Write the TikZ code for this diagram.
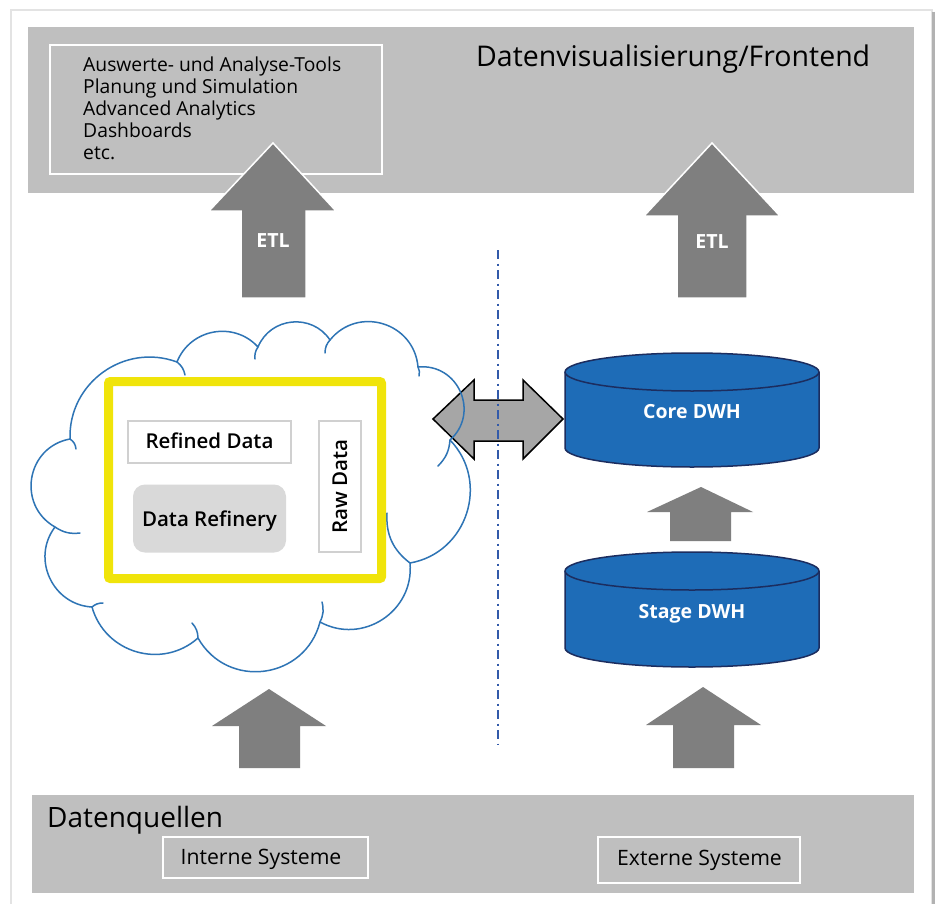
\documentclass[tikz,border=0pt]{standalone}
\usepackage{fontspec}
\setmainfont{Open Sans}
\newfontfamily\sbfont{Open Sans Semibold}
\definecolor{band}{RGB}{191,191,191}
\definecolor{arr}{RGB}{127,127,127}
\definecolor{darr}{RGB}{166,166,166}
\definecolor{dwh}{RGB}{30,108,183}
\definecolor{dwhline}{RGB}{28,45,95}
\definecolor{cloudc}{RGB}{46,116,181}
\definecolor{yel}{RGB}{240,228,10}
\definecolor{boxline}{RGB}{208,208,208}
\definecolor{refin}{RGB}{217,217,217}
\definecolor{dashc}{RGB}{50,90,170}
\begin{document}
\begin{tikzpicture}[x=1pt,y=-1pt,
  bandfill/.style={fill=band},
  whitebox/.style={draw=white, line width=2pt, inner sep=0pt},
  lightbox/.style={draw=boxline, line width=1.5pt, fill=white, inner sep=0pt},
  blockarrow/.style={fill=arr, draw=white, line width=1.5pt},
  plainarrow/.style={fill=arr},
  listtext/.style={anchor=base west, inner sep=0pt, font=\fontsize{19.3}{22}\selectfont},
  bigtext/.style={anchor=base west, inner sep=0pt, font=\fontsize{28.5}{32}\selectfont},
  labeltext/.style={anchor=base, inner sep=0pt, font=\sbfont\fontsize{20.5}{22}\selectfont},
  systext/.style={anchor=base, inner sep=0pt, font=\fontsize{21.2}{24}\selectfont},
  whitelabel/.style={anchor=base, inner sep=0pt, text=white, font=\bfseries\fontsize{19.5}{22}\selectfont},
  cloudline/.style={draw=cloudc, line width=1.5pt, line join=round, line cap=round},
  cylbody/.style={fill=dwh, draw=dwhline, line width=1.5pt, line join=round},
  dashdotline/.style={draw=dashc, line width=1.8pt, dash pattern=on 9pt off 4.5pt on 2pt off 4.5pt}
]
\useasboundingbox (0,0) rectangle (939,904);
\fill[white] (0,0) rectangle (939,904);
% outer panel
\draw[gray!22, line width=1.2pt] (11,10) rectangle (932,930);
\draw[gray!60, line width=2.2pt] (933.5,12) -- (933.5,904);

% bands
\fill[bandfill] (28,27) rectangle (914,193);
\fill[bandfill] (32,795) rectangle (914,893);

% frontend
\node[whitebox, minimum width=332pt, minimum height=129pt] (tools) at (216,109.5) {};
\node[listtext] (t1) at (83,72) {Auswerte- und Analyse-Tools};
\node[listtext] (t2) at (83,94) {Planung und Simulation};
\node[listtext] (t3) at (83,116) {Advanced Analytics};
\node[listtext] (t4) at (83,138) {Dashboards};
\node[listtext] (t5) at (83,160) {etc.};
\node[bigtext] (front) at (476,67) {Datenvisualisierung/Frontend};

% ETL arrows
\path[blockarrow] (273,143) -- (336,211) -- (306,211) -- (306,298) -- (241,298) -- (241,211) -- (209,211) -- cycle;
\node[whitelabel] (etl1) at (273,247) {ETL};
\path[blockarrow] (712,143) -- (780,216) -- (747,216) -- (747,298) -- (677,298) -- (677,216) -- (644,216) -- cycle;
\node[whitelabel] (etl2) at (712,248) {ETL};

% double arrow
\path[fill=darr, draw=black, line width=1.5pt, line join=miter]
  (433,419) -- (474,380) -- (474,400) -- (523,400) -- (523,380) -- (563,419)
  -- (523,459) -- (523,441) -- (474,441) -- (474,459) -- cycle;

% dash-dot separator
\coordinate (sepTop) at (498,250);
\coordinate (sepBot) at (498,745);
\draw[dashdotline] (sepTop) -- (sepBot);

% cloud
\draw[cloudline]
  (70,439) to[bend left=56, looseness=1.09] (177,362)
  to[bend left=58, looseness=1.11] (258,347)
  to[bend left=62, looseness=1.15] (330,340)
  to[bend left=68, looseness=1.24] (418,367)
  to[bend left=72, looseness=1.3] (450,440)
  to[bend left=62, looseness=1.15] (410,563)
  to[bend left=62, looseness=1.15] (320,622)
  to[bend left=68, looseness=1.24] (198,638)
  to[bend left=58, looseness=1.11] (92,607)
  to[bend left=62, looseness=1.15] (55,527)
  to[bend left=70, looseness=1.27] (70,439);
\draw[cloudline] (70,439) to[bend left=25] (76,449);
\draw[cloudline] (177,362) to[bend left=20] (185,375);
\draw[cloudline] (258,347) to[bend right=20] (255,359);
\draw[cloudline] (330,340) to[bend right=20] (325,353);
\draw[cloudline] (418,367) to[bend left=20] (419,376);
\draw[cloudline] (450,440) to[bend left=20] (438,466);
\draw[cloudline] (410,563) to[bend left=28] (387,513);
\draw[cloudline] (320,622) to[bend right=20] (322,602);
\draw[cloudline] (198,638) to[bend right=20] (192,623);
\draw[cloudline] (92,607) to[bend left=20] (103,603);
\draw[cloudline] (55,527) to[bend right=20] (80,533);

% data lake
\node[draw=yel, line width=9pt, fill=white, rounded corners=2pt, minimum width=273pt, minimum height=197pt, inner sep=0pt] (lake) at (245,480) {};
\node[lightbox, minimum width=163pt, minimum height=42pt] (refinedbox) at (209.5,442) {};
\node[labeltext] (refined) at (209.5,448) {Refined Data};
\node[fill=refin, rounded corners=12pt, minimum width=153pt, minimum height=68pt, inner sep=0pt] (refinerybox) at (209.5,518.5) {};
\node[labeltext] (refinery) at (209.5,526) {Data Refinery};
\node[lightbox, minimum width=42pt, minimum height=131pt] (rawbox) at (340,486.5) {};
\node[labeltext, rotate=90] (raw) at (347,486.5) {Raw Data};

% Core DWH
\path[cylbody] (565,372) -- (565,448) arc[start angle=180, end angle=0, x radius=127, y radius=19]
  -- (819,372) arc[start angle=0, end angle=-180, x radius=127, y radius=19] -- cycle;
\draw[dwhline, line width=1.5pt] (565,372) arc[start angle=180, end angle=0, x radius=127, y radius=19];
\node[whitelabel] (core) at (692,418) {Core DWH};

% small arrow
\path[plainarrow] (701,487) -- (753,512) -- (731,512) -- (731,541) -- (670,541) -- (670,512) -- (647,512) -- cycle;

% Stage DWH
\path[cylbody] (565,571) -- (565,648) arc[start angle=180, end angle=0, x radius=127, y radius=19]
  -- (819,571) arc[start angle=0, end angle=-180, x radius=127, y radius=19] -- cycle;
\draw[dwhline, line width=1.5pt] (565,571) arc[start angle=180, end angle=0, x radius=127, y radius=19];
\node[whitelabel] (stage) at (692,618) {Stage DWH};

% bottom arrows
\path[plainarrow] (269,689) -- (326,726) -- (300,726) -- (300,768) -- (239,768) -- (239,726) -- (212,726) -- cycle;
\path[plainarrow] (703,687) -- (761,725) -- (734,725) -- (734,768) -- (673,768) -- (673,725) -- (646,725) -- cycle;

% sources
\node[bigtext, font=\fontsize{28}{32}\selectfont] (sources) at (47,827) {Datenquellen};
\node[whitebox, minimum width=205pt, minimum height=41pt] (internbox) at (265.5,857.5) {};
\node[systext] (intern) at (261,864) {Interne Systeme};
\node[whitebox, minimum width=202pt, minimum height=46pt] (externbox) at (699,860) {};
\node[systext] (extern) at (699.5,865) {Externe Systeme};
\end{tikzpicture}
\end{document}
